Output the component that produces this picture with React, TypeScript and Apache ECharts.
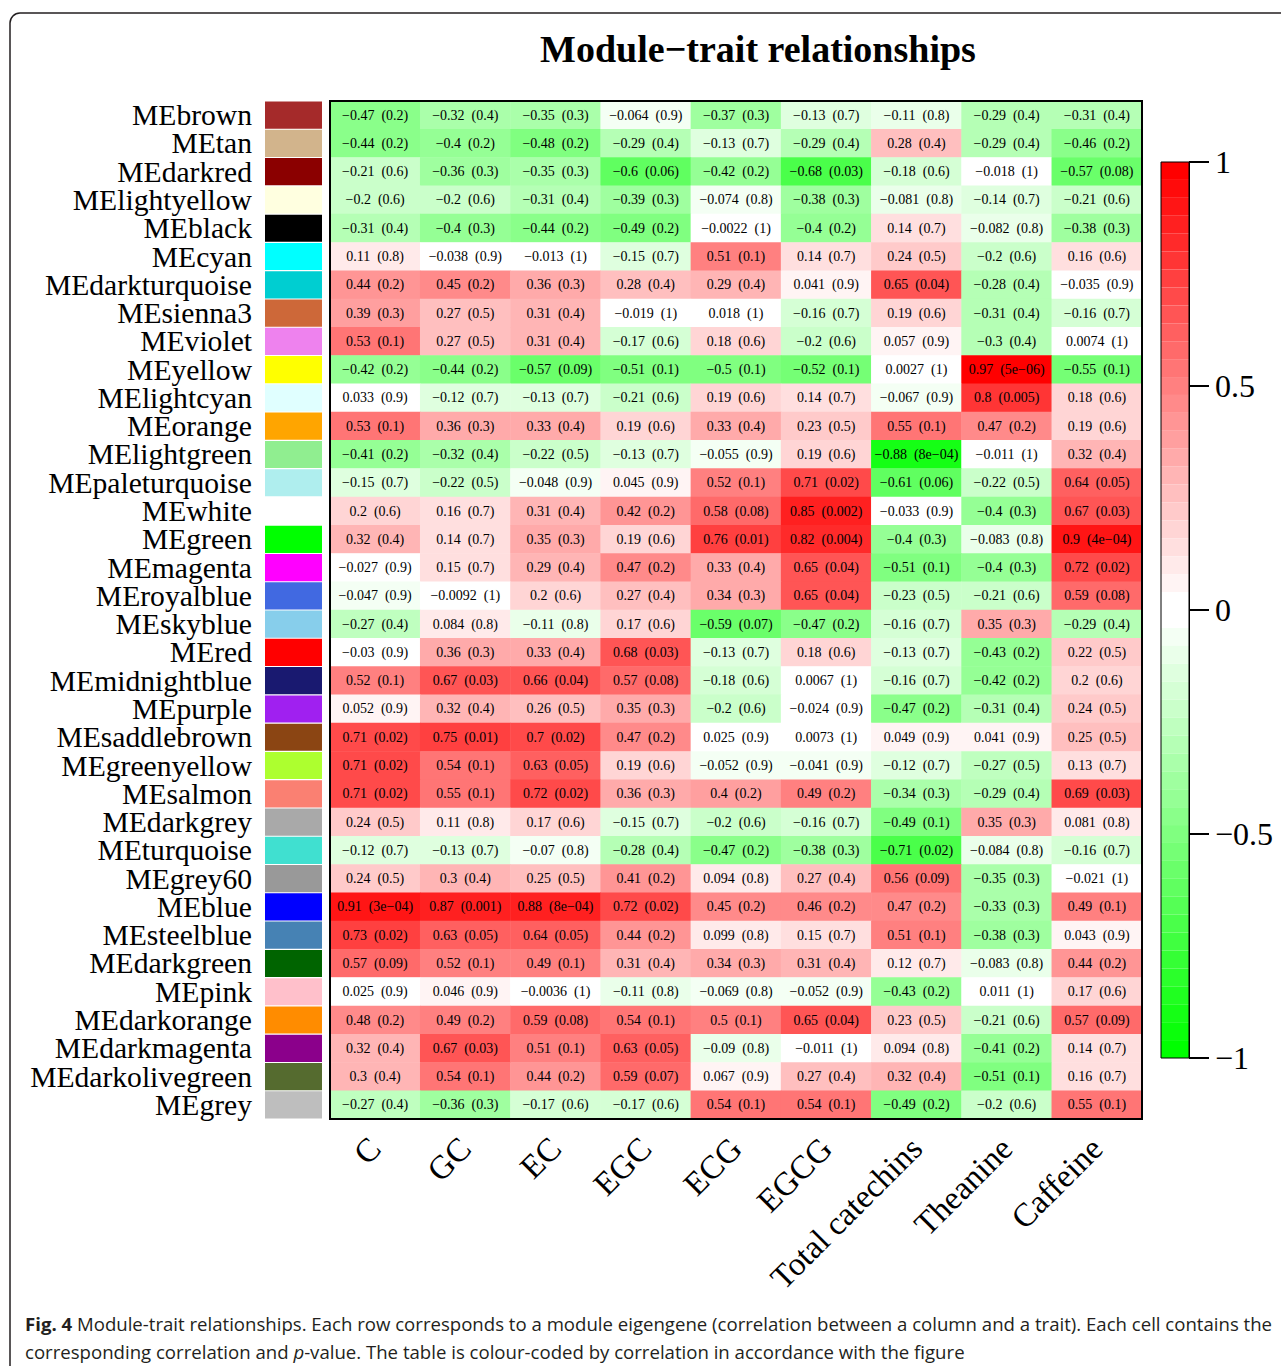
import React, { useEffect, useRef } from "react";
import * as echarts from "echarts";

// Module eigengenes (rows, top to bottom)
const modules = [
  "MEbrown", "MEtan", "MEdarkred", "MElightyellow", "MEblack", "MEcyan",
  "MEdarkturquoise", "MEsienna3", "MEviolet", "MEyellow", "MElightcyan", "MEorange",
  "MElightgreen", "MEpaleturquoise", "MEwhite", "MEgreen", "MEmagenta", "MEroyalblue",
  "MEskyblue", "MEred", "MEmidnightblue", "MEpurple", "MEsaddlebrown", "MEgreenyellow",
  "MEsalmon", "MEdarkgrey", "MEturquoise", "MEgrey60", "MEblue", "MEsteelblue",
  "MEdarkgreen", "MEpink", "MEdarkorange", "MEdarkmagenta", "MEdarkolivegreen", "MEgrey",
];

// R colour of each module
const moduleColors = [
  "#A52A2A", "#D2B48C", "#8B0000", "#FFFFE0", "#000000", "#00FFFF",
  "#00CED1", "#CD6839", "#EE82EE", "#FFFF00", "#E0FFFF", "#FFA500",
  "#90EE90", "#AFEEEE", "#FFFFFF", "#00FF00", "#FF00FF", "#4169E1",
  "#87CEEB", "#FF0000", "#191970", "#A020F0", "#8B4513", "#ADFF2F",
  "#FA8072", "#A9A9A9", "#40E0D0", "#999999", "#0000FF", "#4682B4",
  "#006400", "#FFC0CB", "#FF8C00", "#8B008B", "#556B2F", "#BEBEBE",
];

// Traits (columns)
const traits = ["C", "GC", "EC", "EGC", "ECG", "EGCG", "Total catechins", "Theanine", "Caffeine"];

// Module-trait correlations
const correlations: number[][] = [
  [-0.47, -0.32, -0.35, -0.064, -0.37, -0.13, -0.11, -0.29, -0.31],
  [-0.44, -0.4, -0.48, -0.29, -0.13, -0.29, 0.28, -0.29, -0.46],
  [-0.21, -0.36, -0.35, -0.6, -0.42, -0.68, -0.18, -0.018, -0.57],
  [-0.2, -0.2, -0.31, -0.39, -0.074, -0.38, -0.081, -0.14, -0.21],
  [-0.31, -0.4, -0.44, -0.49, -0.0022, -0.4, 0.14, -0.082, -0.38],
  [0.11, -0.038, -0.013, -0.15, 0.51, 0.14, 0.24, -0.2, 0.16],
  [0.44, 0.45, 0.36, 0.28, 0.29, 0.041, 0.65, -0.28, -0.035],
  [0.39, 0.27, 0.31, -0.019, 0.018, -0.16, 0.19, -0.31, -0.16],
  [0.53, 0.27, 0.31, -0.17, 0.18, -0.2, 0.057, -0.3, 0.0074],
  [-0.42, -0.44, -0.57, -0.51, -0.5, -0.52, 0.0027, 0.97, -0.55],
  [0.033, -0.12, -0.13, -0.21, 0.19, 0.14, -0.067, 0.8, 0.18],
  [0.53, 0.36, 0.33, 0.19, 0.33, 0.23, 0.55, 0.47, 0.19],
  [-0.41, -0.32, -0.22, -0.13, -0.055, 0.19, -0.88, -0.011, 0.32],
  [-0.15, -0.22, -0.048, 0.045, 0.52, 0.71, -0.61, -0.22, 0.64],
  [0.2, 0.16, 0.31, 0.42, 0.58, 0.85, -0.033, -0.4, 0.67],
  [0.32, 0.14, 0.35, 0.19, 0.76, 0.82, -0.4, -0.083, 0.9],
  [-0.027, 0.15, 0.29, 0.47, 0.33, 0.65, -0.51, -0.4, 0.72],
  [-0.047, -0.0092, 0.2, 0.27, 0.34, 0.65, -0.23, -0.21, 0.59],
  [-0.27, 0.084, -0.11, 0.17, -0.59, -0.47, -0.16, 0.35, -0.29],
  [-0.03, 0.36, 0.33, 0.68, -0.13, 0.18, -0.13, -0.43, 0.22],
  [0.52, 0.67, 0.66, 0.57, -0.18, 0.0067, -0.16, -0.42, 0.2],
  [0.052, 0.32, 0.26, 0.35, -0.2, -0.024, -0.47, -0.31, 0.24],
  [0.71, 0.75, 0.7, 0.47, 0.025, 0.0073, 0.049, 0.041, 0.25],
  [0.71, 0.54, 0.63, 0.19, -0.052, -0.041, -0.12, -0.27, 0.13],
  [0.71, 0.55, 0.72, 0.36, 0.4, 0.49, -0.34, -0.29, 0.69],
  [0.24, 0.11, 0.17, -0.15, -0.2, -0.16, -0.49, 0.35, 0.081],
  [-0.12, -0.13, -0.07, -0.28, -0.47, -0.38, -0.71, -0.084, -0.16],
  [0.24, 0.3, 0.25, 0.41, 0.094, 0.27, 0.56, -0.35, -0.021],
  [0.91, 0.87, 0.88, 0.72, 0.45, 0.46, 0.47, -0.33, 0.49],
  [0.73, 0.63, 0.64, 0.44, 0.099, 0.15, 0.51, -0.38, 0.043],
  [0.57, 0.52, 0.49, 0.31, 0.34, 0.31, 0.12, -0.083, 0.44],
  [0.025, 0.046, -0.0036, -0.11, -0.069, -0.052, -0.43, 0.011, 0.17],
  [0.48, 0.49, 0.59, 0.54, 0.5, 0.65, 0.23, -0.21, 0.57],
  [0.32, 0.67, 0.51, 0.63, -0.09, -0.011, 0.094, -0.41, 0.14],
  [0.3, 0.54, 0.44, 0.59, 0.067, 0.27, 0.32, -0.51, 0.16],
  [-0.27, -0.36, -0.17, -0.17, 0.54, 0.54, -0.49, -0.2, 0.55],
];

// Student p-values, as printed
const pValues: string[][] = [
  ["0.2", "0.4", "0.3", "0.9", "0.3", "0.7", "0.8", "0.4", "0.4"],
  ["0.2", "0.2", "0.2", "0.4", "0.7", "0.4", "0.4", "0.4", "0.2"],
  ["0.6", "0.3", "0.3", "0.06", "0.2", "0.03", "0.6", "1", "0.08"],
  ["0.6", "0.6", "0.4", "0.3", "0.8", "0.3", "0.8", "0.7", "0.6"],
  ["0.4", "0.3", "0.2", "0.2", "1", "0.2", "0.7", "0.8", "0.3"],
  ["0.8", "0.9", "1", "0.7", "0.1", "0.7", "0.5", "0.6", "0.6"],
  ["0.2", "0.2", "0.3", "0.4", "0.4", "0.9", "0.04", "0.4", "0.9"],
  ["0.3", "0.5", "0.4", "1", "1", "0.7", "0.6", "0.4", "0.7"],
  ["0.1", "0.5", "0.4", "0.6", "0.6", "0.6", "0.9", "0.4", "1"],
  ["0.2", "0.2", "0.09", "0.1", "0.1", "0.1", "1", "5e-06", "0.1"],
  ["0.9", "0.7", "0.7", "0.6", "0.6", "0.7", "0.9", "0.005", "0.6"],
  ["0.1", "0.3", "0.4", "0.6", "0.4", "0.5", "0.1", "0.2", "0.6"],
  ["0.2", "0.4", "0.5", "0.7", "0.9", "0.6", "8e-04", "1", "0.4"],
  ["0.7", "0.5", "0.9", "0.9", "0.1", "0.02", "0.06", "0.5", "0.05"],
  ["0.6", "0.7", "0.4", "0.2", "0.08", "0.002", "0.9", "0.3", "0.03"],
  ["0.4", "0.7", "0.3", "0.6", "0.01", "0.004", "0.3", "0.8", "4e-04"],
  ["0.9", "0.7", "0.4", "0.2", "0.4", "0.04", "0.1", "0.3", "0.02"],
  ["0.9", "1", "0.6", "0.4", "0.3", "0.04", "0.5", "0.6", "0.08"],
  ["0.4", "0.8", "0.8", "0.6", "0.07", "0.2", "0.7", "0.3", "0.4"],
  ["0.9", "0.3", "0.4", "0.03", "0.7", "0.6", "0.7", "0.2", "0.5"],
  ["0.1", "0.03", "0.04", "0.08", "0.6", "1", "0.7", "0.2", "0.6"],
  ["0.9", "0.4", "0.5", "0.3", "0.6", "0.9", "0.2", "0.4", "0.5"],
  ["0.02", "0.01", "0.02", "0.2", "0.9", "1", "0.9", "0.9", "0.5"],
  ["0.02", "0.1", "0.05", "0.6", "0.9", "0.9", "0.7", "0.5", "0.7"],
  ["0.02", "0.1", "0.02", "0.3", "0.2", "0.2", "0.3", "0.4", "0.03"],
  ["0.5", "0.8", "0.6", "0.7", "0.6", "0.7", "0.1", "0.3", "0.8"],
  ["0.7", "0.7", "0.8", "0.4", "0.2", "0.3", "0.02", "0.8", "0.7"],
  ["0.5", "0.4", "0.5", "0.2", "0.8", "0.4", "0.09", "0.3", "1"],
  ["3e-04", "0.001", "8e-04", "0.02", "0.2", "0.2", "0.2", "0.3", "0.1"],
  ["0.02", "0.05", "0.05", "0.2", "0.8", "0.7", "0.1", "0.3", "0.9"],
  ["0.09", "0.1", "0.1", "0.4", "0.3", "0.4", "0.7", "0.8", "0.2"],
  ["0.9", "0.9", "1", "0.8", "0.8", "0.9", "0.2", "1", "0.6"],
  ["0.2", "0.2", "0.08", "0.1", "0.1", "0.04", "0.5", "0.6", "0.09"],
  ["0.4", "0.03", "0.1", "0.05", "0.8", "1", "0.8", "0.2", "0.7"],
  ["0.4", "0.1", "0.2", "0.07", "0.9", "0.4", "0.4", "0.1", "0.7"],
  ["0.4", "0.3", "0.6", "0.6", "0.1", "0.1", "0.2", "0.6", "0.1"],
];

const SERIF = "'Liberation Serif', 'Times New Roman', serif";
const SANS = "'Open Sans', 'Noto Sans', sans-serif";
const MINUS = "\u2212";
const withMinus = (s: string) => s.replace(/-/g, MINUS);

// Green-white-red palette in 50 steps over [-1, 1]
const PALETTE_STEPS = 50;
function paletteColor(k: number): string {
  const half = PALETTE_STEPS / 2;
  let r: number, g: number, b: number;
  if (k < half) {
    const t = k / (half - 1);
    r = t; g = 1; b = t;
  } else {
    const s = 1 - (k - half) / (half - 1);
    r = 1; g = s; b = s;
  }
  const h = (v: number) => Math.round(v * 255).toString(16).padStart(2, "0");
  return "#" + h(r) + h(g) + h(b);
}
function buildPieces() {
  const pieces: any[] = [];
  const step = 2 / PALETTE_STEPS;
  for (let k = 0; k < PALETTE_STEPS; k++) {
    const lo = Math.round((-1 + k * step) * 1e6) / 1e6;
    const hi = Math.round((-1 + (k + 1) * step) * 1e6) / 1e6;
    const p: any = { lte: hi, color: paletteColor(k) };
    if (k === 0) p.gte = lo; else p.gt = lo;
    pieces.push(p);
  }
  return pieces;
}

export default function App() {
  const ref = useRef<HTMLDivElement>(null);

  useEffect(() => {
    if (!ref.current) return;
    const chart = echarts.init(ref.current, null, { renderer: "svg" });

    const cells: any[] = [];
    correlations.forEach((row, i) =>
      row.forEach((v, j) => cells.push([j, i, v]))
    );

    const heat = { left: 330, top: 101, width: 812, height: 1018 };
    const bar = { left: 1161, top: 162, width: 28, height: 896 };

    const option: any = {
      animation: false,
      backgroundColor: "#ffffff",
      grid: [
        { ...heat, show: true, borderColor: "#000", borderWidth: 2, backgroundColor: "transparent", z: 3 },
        { left: 265, top: heat.top, width: 57, height: heat.height },
        { ...bar, show: true, borderColor: "#000", borderWidth: 1, backgroundColor: "transparent", z: 5 },
      ],
      xAxis: [
        {
          type: "category", gridIndex: 0, data: traits, position: "bottom",
          axisLine: { show: false }, axisTick: { show: false }, splitLine: { show: false },
          axisLabel: { interval: 0, rotate: 45, margin: 24, fontSize: 33, fontFamily: SERIF, color: "#000" },
        },
        { type: "value", gridIndex: 1, min: 0, max: 1, show: false },
        { type: "value", gridIndex: 2, min: 0, max: 1, show: false },
      ],
      yAxis: [
        {
          type: "category", gridIndex: 0, data: modules, inverse: true,
          axisLine: { show: false }, axisTick: { show: false }, axisLabel: { show: false },
        },
        {
          type: "category", gridIndex: 1, data: modules, inverse: true,
          axisLine: { show: false }, axisTick: { show: false },
          axisLabel: { interval: 0, margin: 13, fontSize: 29.6, fontFamily: SERIF, color: "#000" },
        },
        {
          type: "value", gridIndex: 2, min: -1, max: 1, interval: 0.5, position: "right",
          axisLine: { show: true, onZero: false, lineStyle: { color: "#000", width: 1 } },
          axisTick: { show: true, inside: false, length: 20, lineStyle: { color: "#000", width: 2 } },
          splitLine: { show: false },
          axisLabel: {
            margin: 26, fontSize: 32, fontFamily: SERIF, color: "#000",
            formatter: (v: number) => withMinus(String(v)),
          },
        },
      ],
      visualMap: [
        {
          type: "piecewise",
          seriesIndex: 0,
          dimension: 2,
          pieces: buildPieces(),
          orient: "vertical",
          left: bar.left,
          top: bar.top,
          itemWidth: bar.width,
          itemHeight: bar.height / PALETTE_STEPS,
          itemGap: 0,
          itemSymbol: "rect",
          showLabel: false,
          padding: 0,
          selectedMode: false,
          hoverLink: false,
        },
      ],
      series: [
        {
          type: "heatmap",
          xAxisIndex: 0,
          yAxisIndex: 0,
          data: cells,
          itemStyle: { borderWidth: 0 },
          emphasis: { disabled: true },
          label: {
            show: true,
            fontSize: 14,
            fontFamily: SERIF,
            color: "#000",
            formatter: (p: any) => {
              const [j, i, v] = p.data;
              return withMinus(String(v)) + "  (" + withMinus(pValues[i][j]) + ")";
            },
          },
        },
        {
          type: "bar",
          xAxisIndex: 1,
          yAxisIndex: 1,
          barCategoryGap: "4%",
          silent: true,
          data: moduleColors.map((c) => ({ value: 1, itemStyle: { color: c } })),
        },
      ],
      graphic: [
        {
          type: "rect",
          shape: { x: 10, y: 13, width: 1320, height: 1420, r: 10 },
          style: { fill: "none", stroke: "#231f20", lineWidth: 1.5 },
          silent: true,
        },
        {
          type: "text",
          x: 758,
          y: 49,
          style: {
            text: "Module\u2212trait relationships",
            fontSize: 38,
            fontWeight: "bold",
            fontFamily: SERIF,
            fill: "#000",
            align: "center",
            verticalAlign: "middle",
            textAlign: "center",
            textVerticalAlign: "middle",
          },
        },
        {
          type: "text",
          x: 25,
          y: 1323,
          style: {
            text: "{b|Fig. 4} Module-trait relationships. Each row corresponds to a module eigengene (correlation between a column and a trait). Each cell contains the",
            fontSize: 18.6,
            fontFamily: SANS,
            fill: "#231f20",
            verticalAlign: "middle",
            textVerticalAlign: "middle",
            rich: {
              b: { fontSize: 18.6, fontWeight: "bold", fontFamily: SANS, fill: "#231f20" },
            },
          },
        },
        {
          type: "text",
          x: 25,
          y: 1351,
          style: {
            text: "corresponding correlation and {i|p}-value. The table is colour-coded by correlation in accordance with the figure",
            fontSize: 18.6,
            fontFamily: SANS,
            fill: "#231f20",
            verticalAlign: "middle",
            textVerticalAlign: "middle",
            rich: {
              i: { fontSize: 18.6, fontStyle: "italic", fontFamily: SANS, fill: "#231f20" },
            },
          },
        },
      ],
    };

    chart.setOption(option);
    return () => chart.dispose();
  }, []);

  return (
    <div
      ref={ref}
      style={{ position: "absolute", left: 0, top: 0, width: 1281, height: 1366 }}
    />
  );
}
